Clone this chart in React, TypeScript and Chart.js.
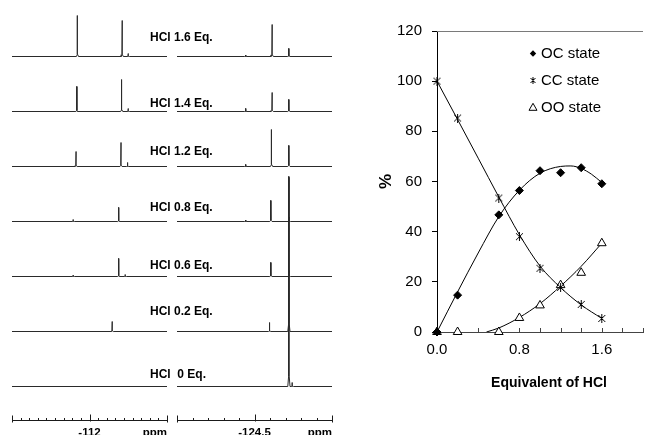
import React, { useEffect, useRef } from 'react';
import { Chart, registerables } from 'chart.js';

Chart.register(...registerables);

const FONT = "Arial, 'Liberation Sans', Helvetica, sans-serif";
Chart.defaults.font.family = FONT;

// ---------- titration: state populations (%) vs. equivalents of HCl ----------
const hclEq = [0, 0.2, 0.6, 0.8, 1.0, 1.2, 1.4, 1.6];
const ocState = [0, 14.7, 46.7, 56.4, 64.3, 63.5, 65.5, 59.1];
const ccState = [100, 85.3, 53.4, 38.0, 25.4, 17.8, 11.0, 5.4];
const ooState = [0, 0, 0, 5.6, 10.6, 18.7, 23.6, 35.4];

// smoothed trend lines through each population
const ocTrendX = [0, 0.2, 0.4, 0.6, 0.8, 1.0, 1.2, 1.3, 1.4, 1.5, 1.6];
const ocTrendY = [0, 16, 31.5, 46, 56.5, 63.3, 66, 66.2, 65.2, 62.9, 59.6];
const ccTrendX = [0, 0.2, 0.4, 0.6, 0.8, 1.0, 1.2, 1.4, 1.6];
const ccTrendY = [100, 84.7, 69.3, 53.8, 38.8, 26.3, 17.7, 10.8, 5.4];
const ooTrendX = [0.48, 0.6, 0.8, 1.0, 1.2, 1.4, 1.6];
const ooTrendY = [0, 1.6, 5.8, 11.3, 18.3, 26.2, 35.4];

const stateNames = ['OC state', 'CC state', 'OO state'];
const eqTickLabels = [0, 0.8, 1.6];
const eqRange = [0, 2.0];
const pctTicks = [0, 20, 40, 60, 80, 100, 120];
const xTitle = 'Equivalent of HCl';

// ---------- 19F NMR spectra, two windows ----------
const spectrumLabels = [
  'HCl 1.6 Eq.', 'HCl 1.4 Eq.', 'HCl 1.2 Eq.', 'HCl 0.8 Eq.',
  'HCl 0.6 Eq.', 'HCl 0.2 Eq.', 'HCl  0 Eq.',
];
const downfieldWindow = [-116.5, -107.5]; // ppm
const upfieldWindow = [-127.0, -122.0]; // ppm
const downfieldMarker = -112;
const upfieldMarker = -124.5;

// peaks as [shift (ppm), intensity]
const downfield16 = [[-111.30, 41], [-113.90, 36], [-114.25, 3]];
const downfield14 = [[-111.27, 25], [-113.87, 32], [-114.25, 3]];
const downfield12 = [[-111.22, 15], [-113.83, 24], [-114.22, 4]];
const downfield08 = [[-111.06, 2], [-113.70, 14]];
const downfield06 = [[-111.06, 1.5], [-113.70, 18], [-114.08, 2]];
const downfield02 = [[-113.32, 10]];
const downfield00: number[][] = [];

const upfield16 = [[-124.22, 1.5], [-125.07, 32], [-125.61, 8]];
const upfield14 = [[-124.22, 3], [-125.07, 19], [-125.61, 12]];
const upfield12 = [[-124.22, 2], [-125.05, 37], [-125.61, 21]];
const upfield08 = [[-124.22, 1.5], [-125.03, 21], [-125.62, 4.5]];
const upfield06 = [[-125.03, 14], [-125.62, 6]];
const upfield02 = [[-124.99, 9], [-125.61, 155]];
const upfield00 = [[-125.61, 209], [-125.72, 4]];

const downfieldSets = [downfield16, downfield14, downfield12, downfield08, downfield06, downfield02, downfield00];
const upfieldSets = [upfield16, upfield14, upfield12, upfield08, upfield06, upfield02, upfield00];

// stacking of the traces (intensity units = px)
const TRACE_BASE = 33.5;
const TRACE_STEP = 55;
const LABEL_Y = [38, 104, 152, 208, 266, 312, 375];

function traceFor(peaks: number[][], win: number[], halfWidth: number, offset: number) {
  const pts = [{ x: win[0], y: offset }];
  const sorted = [...peaks].sort((a, b) => a[0] - b[0]);
  for (const [p, h] of sorted) {
    pts.push({ x: p - 4 * halfWidth, y: offset });
    pts.push({ x: p - halfWidth, y: offset + 0.05 * h });
    pts.push({ x: p, y: offset + h });
    pts.push({ x: p + halfWidth, y: offset + 0.05 * h });
    pts.push({ x: p + 4 * halfWidth, y: offset });
  }
  pts.push({ x: win[1], y: offset });
  return pts;
}

function spectraChart(
  canvas: HTMLCanvasElement,
  sets: number[][][],
  win: number[],
  halfWidth: number,
  marker: number,
  padLeft: number,
  padRight: number,
  withLabels: boolean,
) {
  const n = sets.length;
  const axisPlugin = {
    id: 'ppmAxis',
    afterDraw(chart: any) {
      const { ctx, chartArea: area } = chart;
      const xs = chart.scales.x;
      const yLine = area.bottom + 0.5;
      ctx.save();
      ctx.strokeStyle = '#1a1a1a';
      ctx.lineWidth = 1;
      ctx.beginPath();
      ctx.moveTo(area.left, yLine);
      ctx.lineTo(area.right, yLine);
      const steps = Math.round((win[1] - win[0]) / 0.5);
      for (let k = 0; k <= steps; k++) {
        const v = win[0] + k * 0.5;
        const px = Math.round(xs.getPixelForValue(v)) + 0.5;
        const isEnd = k === 0 || k === steps;
        const isMajor = Math.abs(v - marker) < 1e-6;
        const up = isEnd ? 5 : isMajor ? 6 : 2.5;
        const down = isEnd ? 2 : isMajor ? 1 : 0;
        ctx.moveTo(px, yLine - up);
        ctx.lineTo(px, yLine + down);
      }
      ctx.stroke();
      ctx.fillStyle = '#000';
      ctx.font = `bold 11.5px ${FONT}`;
      ctx.textBaseline = 'alphabetic';
      ctx.textAlign = 'center';
      ctx.fillText(String(marker), xs.getPixelForValue(marker), 436);
      ctx.textAlign = 'right';
      ctx.fillText('ppm', area.right, 436);
      if (withLabels) {
        ctx.font = `bold 12px ${FONT}`;
        ctx.textAlign = 'left';
        ctx.textBaseline = 'middle';
        spectrumLabels.forEach((t, i) => ctx.fillText(t, 150, LABEL_Y[i]));
      }
      ctx.restore();
    },
  };
  return new Chart(canvas, {
    type: 'line',
    data: {
      datasets: sets.map((peaks, i) => ({
        data: traceFor(peaks, win, halfWidth, TRACE_BASE + (n - 1 - i) * TRACE_STEP),
        borderColor: '#2a2a2a',
        borderWidth: 1,
        pointRadius: 0,
        tension: 0,
        fill: false,
      })),
    },
    options: {
      responsive: false,
      animation: false,
      events: [],
      parsing: false as any,
      layout: { padding: { left: padLeft, right: padRight, top: 0, bottom: 15 } },
      plugins: { legend: { display: false }, tooltip: { enabled: false } },
      scales: {
        x: { type: 'linear', reverse: true, min: win[0], max: win[1], display: false },
        y: { type: 'linear', min: 0, max: 420, display: false },
      },
    } as any,
    plugins: [axisPlugin],
  });
}

function makeAsterisk(size: number) {
  const c = document.createElement('canvas');
  c.width = size;
  c.height = size;
  const g = c.getContext('2d')!;
  g.strokeStyle = '#000';
  g.lineWidth = 1;
  const m = size / 2;
  g.beginPath();
  g.moveTo(1, 1);
  g.lineTo(size - 1, size - 1);
  g.moveTo(size - 1, 1);
  g.lineTo(1, size - 1);
  g.moveTo(m, 0);
  g.lineTo(m, size);
  g.stroke();
  return c;
}

function stateChart(canvas: HTMLCanvasElement) {
  const asterisk = makeAsterisk(9);
  const smallAsterisk = makeAsterisk(7);
  const pts = (ys: number[]) => hclEq.map((x, i) => ({ x, y: ys[i] }));
  const trend = (xs: number[], ys: number[]) => xs.map((x, i) => ({ x, y: ys[i] }));

  const trendStyle = {
    showLine: true,
    borderColor: '#000',
    borderWidth: 1,
    pointRadius: 0,
    cubicInterpolationMode: 'monotone',
    order: 2,
  };

  const framePlugin = {
    id: 'frame',
    beforeDatasetsDraw(chart: any) {
      const { ctx, chartArea: a } = chart;
      const xs = chart.scales.x;
      ctx.save();
      ctx.lineWidth = 1;
      ctx.strokeStyle = '#7a7a7a';
      ctx.beginPath();
      const ty = Math.round(a.top) + 0.5;
      ctx.moveTo(a.left, ty);
      ctx.lineTo(a.right, ty);
      ctx.stroke();
      ctx.strokeStyle = '#444';
      ctx.beginPath();
      xs.ticks.forEach((t: any) => {
        const px = Math.round(xs.getPixelForValue(t.value)) + 0.5;
        ctx.moveTo(px, a.bottom);
        ctx.lineTo(px, a.bottom - 4);
      });
      ctx.stroke();
      ctx.restore();
    },
    afterDraw(chart: any) {
      const { ctx } = chart;
      ctx.save();
      // axis title, centred under the labelled part of the axis
      ctx.fillStyle = '#000';
      ctx.font = `bold 14px ${FONT}`;
      ctx.textAlign = 'center';
      ctx.textBaseline = 'middle';
      ctx.fillText(xTitle, 209, 383);

      // legend
      const lx = 193;
      const ly = 53.5;
      const gap = 27;
      ctx.lineWidth = 1;
      ctx.strokeStyle = '#000';
      ctx.beginPath();
      ctx.moveTo(lx, ly - 3.2);
      ctx.lineTo(lx + 3.2, ly);
      ctx.lineTo(lx, ly + 3.2);
      ctx.lineTo(lx - 3.2, ly);
      ctx.closePath();
      ctx.fill();
      ctx.drawImage(smallAsterisk, lx - 3.5, ly + gap - 3.5);
      const ty = ly + 2 * gap;
      ctx.beginPath();
      ctx.moveTo(lx, ty - 4.2);
      ctx.lineTo(lx + 4, ty + 2.8);
      ctx.lineTo(lx - 4, ty + 2.8);
      ctx.closePath();
      ctx.stroke();
      ctx.font = `15px ${FONT}`;
      ctx.textAlign = 'left';
      stateNames.forEach((name, i) => ctx.fillText(name, lx + 8, ly + i * gap));
      ctx.restore();
    },
  };

  return new Chart(canvas, {
    type: 'scatter',
    data: {
      datasets: [
        {
          label: stateNames[0],
          data: pts(ocState),
          pointStyle: 'rectRot',
          pointRadius: 4,
          backgroundColor: '#000',
          borderColor: '#000',
          borderWidth: 1,
          clip: false,
          order: 0,
        },
        {
          label: stateNames[1],
          data: pts(ccState),
          pointStyle: asterisk,
          pointRadius: 4.5,
          backgroundColor: '#000',
          borderColor: '#000',
          clip: false,
          order: 0,
        },
        {
          label: stateNames[2],
          data: pts(ooState),
          pointStyle: 'triangle',
          pointRadius: 5,
          backgroundColor: '#fff',
          borderColor: '#000',
          borderWidth: 1,
          clip: false,
          order: 1,
        },
        { label: 'oc-trend', data: trend(ocTrendX, ocTrendY), ...trendStyle },
        { label: 'cc-trend', data: trend(ccTrendX, ccTrendY), ...trendStyle },
        { label: 'oo-trend', data: trend(ooTrendX, ooTrendY), ...trendStyle },
      ],
    } as any,
    options: {
      responsive: false,
      animation: false,
      events: [],
      layout: { padding: { top: 31, left: 0, right: 0, bottom: 0 } },
      plugins: { legend: { display: false }, tooltip: { enabled: false } },
      scales: {
        x: {
          type: 'linear',
          position: 'bottom',
          min: eqRange[0],
          max: eqRange[1],
          grid: { display: false, drawTicks: false },
          border: { display: true, color: '#444', width: 1 },
          ticks: {
            stepSize: 0.2,
            autoSkip: false,
            maxRotation: 0,
            includeBounds: false,
            padding: 9,
            color: '#000',
            font: { size: 15, family: FONT },
            callback: (v: any) =>
              eqTickLabels.some((t) => Math.abs(t - Number(v)) < 1e-6) ? Number(v).toFixed(1) : '',
          },
          title: { display: false },
          afterFit: (s: any) => {
            s.height = 103;
          },
        },
        y: {
          type: 'linear',
          min: pctTicks[0],
          max: pctTicks[pctTicks.length - 1],
          grid: { display: true, drawOnChartArea: false, drawTicks: true, tickLength: 5, color: '#000' },
          border: { display: true, color: '#000', width: 1 },
          ticks: {
            stepSize: pctTicks[1] - pctTicks[0],
            padding: 10,
            color: '#000',
            font: { size: 15, family: FONT },
          },
          title: {
            display: true,
            text: '%',
            color: '#000',
            font: { size: 17, weight: 'bold', family: FONT },
            padding: { top: 36.5, bottom: 0 },
          },
          afterFit: (s: any) => {
            s.width = 97;
          },
        },
      },
    } as any,
    plugins: [framePlugin],
  });
}

export default function App() {
  const downRef = useRef<HTMLCanvasElement>(null);
  const upRef = useRef<HTMLCanvasElement>(null);
  const plotRef = useRef<HTMLCanvasElement>(null);

  useEffect(() => {
    const charts = [
      spectraChart(downRef.current!, downfieldSets, downfieldWindow, 0.015, downfieldMarker, 12, 173, true),
      spectraChart(upRef.current!, upfieldSets, upfieldWindow, 0.009, upfieldMarker, 177, 8, false),
      stateChart(plotRef.current!),
    ];
    return () => charts.forEach((c) => c.destroy());
  }, []);

  const layer: React.CSSProperties = { position: 'absolute', top: 0, display: 'block' };
  return (
    <div
      style={{
        position: 'fixed',
        left: 0,
        top: 0,
        width: 649,
        height: 435,
        overflow: 'hidden',
        background: '#fff',
      }}
    >
      <canvas ref={downRef} width={340} height={435} style={{ ...layer, left: 0 }} />
      <canvas ref={upRef} width={340} height={435} style={{ ...layer, left: 0 }} />
      <canvas ref={plotRef} width={312} height={435} style={{ ...layer, left: 340 }} />
    </div>
  );
}
